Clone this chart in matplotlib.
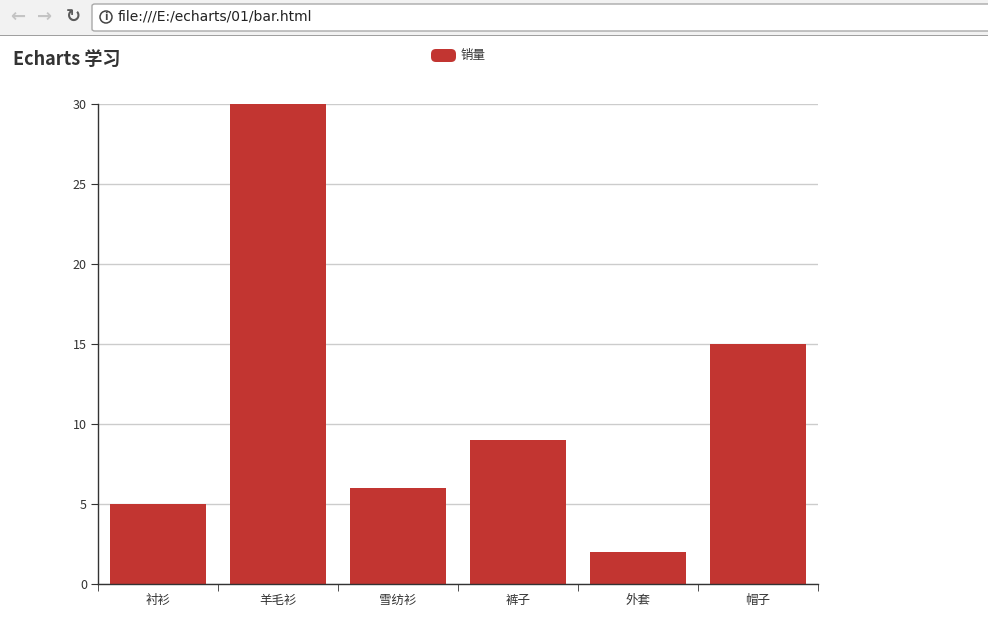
import matplotlib
matplotlib.use("Agg")
import matplotlib.pyplot as plt
from matplotlib.patches import Rectangle, FancyBboxPatch, Ellipse

plt.rcParams['font.family'] = ['Noto Sans CJK SC', 'DejaVu Sans']

# Data
categories = ["衬衫", "羊毛衫", "雪纺衫", "裤子", "外套", "帽子"]
sales = [5, 30, 6, 9, 2, 15]
y_ticks = [0, 5, 10, 15, 20, 25, 30]

bar_color = "#c23531"
text_color = "#333333"

W, H = 988, 631
fig = plt.figure(figsize=(W / 100, H / 100), dpi=100)
fig.patch.set_facecolor("white")

def px(x, y):
    # pixel coords (top-left origin) -> figure fraction
    return x / W, 1 - y / H

# Browser toolbar
bx, by = px(0, 36)
fig.patches.append(Rectangle((0, by), 1, 36 / H, transform=fig.transFigure,
                             facecolor="#f2f2f2", edgecolor="none", zorder=0))
fig.patches.append(Rectangle((0, by), 1, 1.2 / H, transform=fig.transFigure,
                             facecolor="#a0a0a0", edgecolor="none", zorder=1))
ax0, ay0 = px(92, 31)
fig.patches.append(FancyBboxPatch((ax0, ay0), (W - 92 + 10) / W, 27 / H,
                                  boxstyle="round,pad=0,rounding_size=0.003",
                                  transform=fig.transFigure, facecolor="white",
                                  edgecolor="#a9a9a9", linewidth=1, zorder=2))
for x, s, c in [(18, "←", "#c4c4c4"), (45, "→", "#c4c4c4"), (73, "↻", "#5a5a5a")]:
    tx, ty = px(x, 17)
    fig.text(tx, ty, s, fontsize=13, color=c, ha="center", va="center",
             family="DejaVu Sans", fontweight="bold")
cx, cy = px(106, 17)
fig.patches.append(Ellipse((cx, cy), 12 / W, 12 / H, transform=fig.transFigure,
                           facecolor="none", edgecolor="#444444", linewidth=1.1, zorder=3))
fig.text(cx, cy, "i", fontsize=7, color="#444444", ha="center", va="center",
         family="DejaVu Sans", fontweight="bold")
tx, ty = px(118, 17)
fig.text(tx, ty, "file:///E:/echarts/01/bar.html", fontsize=10, color="#222222",
         ha="left", va="center", family="DejaVu Sans")

# Title
tx, ty = px(13, 59)
fig.text(tx, ty, "Echarts 学习", fontsize=13, fontweight="bold", color=text_color,
         ha="left", va="center")

# Legend
lx, ly = px(431, 62)
fig.patches.append(FancyBboxPatch((lx, ly), 25 / W, 13 / H,
                                  boxstyle="round,pad=0,rounding_size=0.005",
                                  transform=fig.transFigure, facecolor=bar_color,
                                  edgecolor="none", mutation_aspect=W / H))
tx, ty = px(461, 56)
fig.text(tx, ty, "销量", fontsize=9, color=text_color, ha="left", va="center")

# Chart axes
ax = fig.add_axes([98 / W, 1 - 584 / H, 720 / W, 480 / H])
x = range(len(categories))
ax.bar(x, sales, width=0.8, color=bar_color, zorder=2)
ax.set_xlim(-0.5, len(categories) - 0.5)
ax.set_ylim(0, 30)
ax.set_yticks(y_ticks)
ax.set_yticklabels([str(v) for v in y_ticks])
ax.set_xticks(x)
ax.set_xticklabels(categories)
ax.set_xticks([i - 0.5 for i in range(len(categories) + 1)], minor=True)
ax.tick_params(axis="x", which="major", length=0, pad=7, labelsize=9, labelcolor=text_color)
ax.tick_params(axis="x", which="minor", length=5, color=text_color, direction="out")
ax.tick_params(axis="y", length=5, color=text_color, pad=3, labelsize=9, labelcolor=text_color)
ax.grid(axis="y", color="#cccccc", linewidth=1, zorder=0)
for s in ["top", "right"]:
    ax.spines[s].set_visible(False)
for s in ["left", "bottom"]:
    ax.spines[s].set_color(text_color)
    ax.spines[s].set_linewidth(1)

fig.savefig("out.png", dpi=100)
